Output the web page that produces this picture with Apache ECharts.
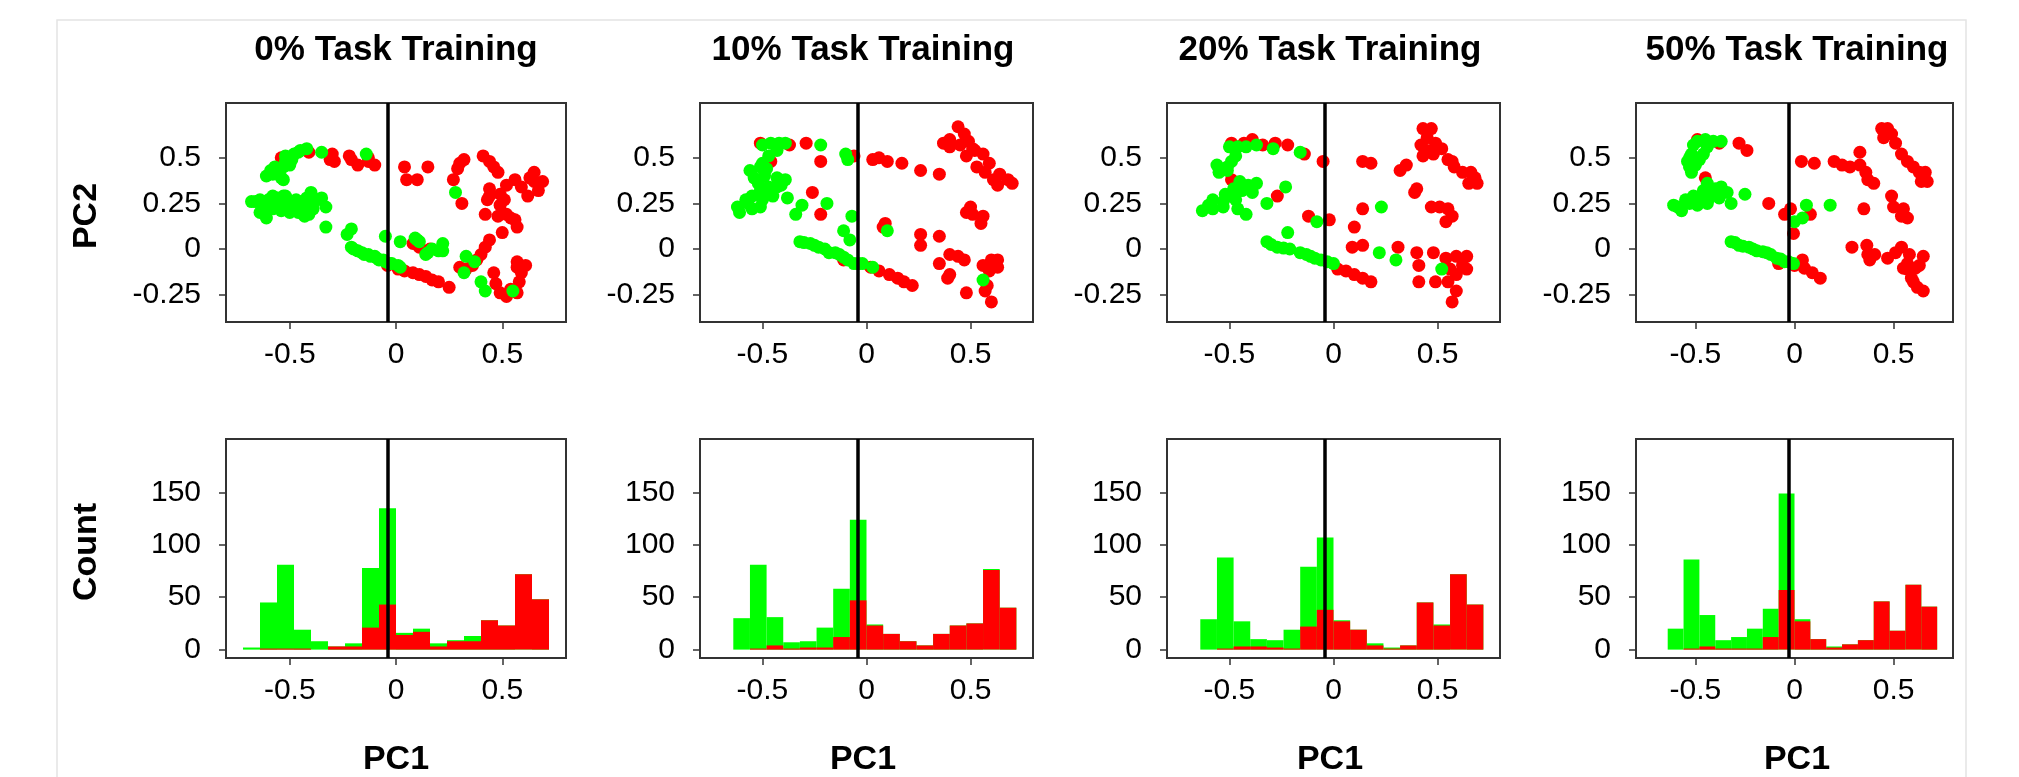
<!DOCTYPE html>
<html>
<head>
<meta charset="utf-8">
<title>Task Training PCA</title>
<script src="https://cdn.jsdelivr.net/npm/echarts@6.0.0/dist/echarts.min.js"></script>
<style>
  html, body { margin: 0; padding: 0; background: #fff; }
  #chart { width: 2019px; height: 777px; }
</style>
</head>
<body>
<div id="chart"></div>
<script>
const panelTitles = ['0% Task Training', '10% Task Training', '20% Task Training', '50% Task Training']
const xTicks = [-0.5, 0, 0.5]
const pcYTicks = [-0.25, 0, 0.25, 0.5]
const countTicks = [0, 50, 100, 150]
const thresholds = [-0.035, -0.037, -0.035, -0.03]

// PCA points, [PC1, PC2]
const red0 = [[-0.54,0.50],[-0.41,0.53],[-0.30,0.52],[-0.31,0.49],[-0.29,0.48],[-0.22,0.51],[-0.21,0.49],[-0.18,0.46],[-0.13,0.50],[-0.13,0.48],[-0.10,0.46],
  [0.04,0.45],[0.05,0.38],[0.10,0.38],[0.15,0.45],[0.27,0.38],[0.31,0.25],[0.29,0.44],[0.30,0.47],[0.32,0.49],[0.41,0.51],[0.44,0.48],[0.46,0.45],[0.48,0.42],[0.65,0.42],[0.63,0.39],[0.69,0.37],[0.65,0.37],[0.67,0.32],[0.62,0.29],[0.59,0.34],[0.56,0.38],[0.52,0.35],[0.51,0.27],[0.44,0.33],[0.43,0.27],[0.42,0.19],[0.49,0.24],[0.52,0.19],[0.54,0.17],[0.57,0.12],[0.50,0.09],[0.56,0.16],[0.48,0.18],[0.44,0.29],[0.49,0.30],
  [0.44,0.05],[0.42,0.01],[0.40,-0.03],[0.38,-0.06],[0.36,-0.09],[0.30,-0.10],[0.33,-0.11],[0.46,-0.13],[0.47,-0.19],[0.49,-0.24],[0.52,-0.26],[0.57,-0.07],[0.61,-0.09],[0.57,-0.10],[0.59,-0.13],[0.58,-0.18],[0.57,-0.24],[0.54,-0.22],
  [-0.04,-0.09],[0.01,-0.11],[0.04,-0.12],[0.08,-0.13],[0.11,-0.14],[0.14,-0.15],[0.17,-0.17],[0.20,-0.18],[0.25,-0.21],[0.08,0.03],[0.11,0.01],[0.16,0.00]]
const green0 = [[-0.61,0.40],[-0.59,0.43],[-0.57,0.45],[-0.57,0.42],[-0.54,0.39],[-0.53,0.45],[-0.52,0.48],[-0.52,0.51],[-0.49,0.49],[-0.48,0.52],[-0.46,0.53],[-0.45,0.54],[-0.42,0.55],[-0.50,0.46],[-0.55,0.42],[-0.58,0.41],[-0.53,0.38],[-0.35,0.53],[-0.14,0.52],
  [-0.66,0.26],[-0.64,0.27],[-0.62,0.23],[-0.61,0.17],[-0.60,0.27],[-0.57,0.25],[-0.56,0.28],[-0.54,0.21],[-0.53,0.29],[-0.51,0.27],[-0.50,0.20],[-0.49,0.25],[-0.47,0.27],[-0.45,0.23],[-0.43,0.18],[-0.42,0.28],[-0.41,0.24],[-0.40,0.31],[-0.37,0.27],[-0.35,0.28],[-0.33,0.23],[-0.64,0.20],[-0.55,0.23],[-0.46,0.20],[-0.41,0.19],[-0.52,0.29],[-0.58,0.29],[-0.61,0.23],[-0.68,0.26],[-0.62,0.26],[-0.55,0.26],[-0.48,0.23],[-0.44,0.26],[-0.39,0.22],[-0.58,0.22],[-0.50,0.24],
  [-0.33,0.12],[-0.21,0.11],[-0.23,0.08],[-0.21,0.01],[-0.20,0.00],[-0.18,-0.01],[-0.16,-0.02],[-0.15,-0.03],[-0.13,-0.03],[-0.12,-0.04],[-0.10,-0.04],[-0.09,-0.05],[-0.08,-0.06],[-0.06,-0.06],[-0.05,-0.07],[-0.03,-0.08],[-0.02,-0.08],[0.01,-0.09],[0.02,-0.10],[-0.05,0.07],[0.02,0.04],[0.09,0.06],[0.10,0.05],[0.11,0.04],[0.14,-0.03],[0.15,-0.02],[0.17,0.00],[0.20,-0.01],[0.22,0.03],[0.22,-0.01],[0.28,0.31],[0.33,-0.04],[0.37,-0.07],[0.32,-0.13],[0.40,-0.18],[0.42,-0.23],[0.55,-0.23]]

const red10 = [[-0.51,0.58],[-0.46,0.48],[-0.37,0.57],[-0.29,0.58],[-0.22,0.48],[-0.06,0.51],[-0.26,0.31],[-0.22,0.19],
  [0.03,0.49],[0.06,0.50],[0.10,0.48],[0.17,0.47],[0.26,0.43],[0.35,0.41],
  [0.37,0.58],[0.40,0.60],[0.40,0.56],[0.44,0.67],[0.47,0.63],[0.49,0.59],[0.45,0.57],[0.51,0.55],[0.48,0.51],[0.52,0.54],[0.56,0.52],[0.59,0.47],[0.53,0.45],[0.57,0.42],[0.61,0.38],[0.64,0.41],[0.68,0.38],[0.63,0.35],[0.70,0.36],
  [0.50,0.23],[0.51,0.19],[0.56,0.18],[0.55,0.14],[0.48,0.20],
  [0.08,0.12],[0.09,0.14],[0.26,0.08],[0.26,0.02],[0.35,0.07],
  [0.35,-0.08],[0.40,-0.03],[0.44,-0.04],[0.47,-0.06],[0.40,-0.14],[0.39,-0.16],[0.48,-0.24],[0.57,-0.23],[0.60,-0.29],[0.56,-0.09],[0.60,-0.06],[0.63,-0.06],[0.63,-0.10],[0.59,-0.12],[0.58,-0.20],
  [-0.11,-0.06],[0.02,-0.10],[0.06,-0.12],[0.11,-0.14],[0.15,-0.16],[0.18,-0.18],[0.22,-0.20]]
const green10 = [[-0.50,0.57],[-0.46,0.58],[-0.42,0.58],[-0.39,0.58],[-0.43,0.54],[-0.47,0.51],[-0.48,0.44],[-0.50,0.47],[-0.51,0.45],[-0.56,0.43],[-0.54,0.39],[-0.52,0.36],[-0.49,0.40],[-0.43,0.39],[-0.39,0.38],[-0.41,0.35],[-0.43,0.34],[-0.47,0.34],[-0.51,0.32],[-0.46,0.30],[-0.55,0.29],[-0.58,0.27],[-0.57,0.25],[-0.50,0.27],[-0.62,0.23],[-0.61,0.20],[-0.55,0.22],[-0.51,0.23],[-0.45,0.29],[-0.38,0.28],[-0.34,0.19],[-0.31,0.24],[-0.22,0.57],[-0.19,0.25],[-0.10,0.52],[-0.09,0.49],[-0.07,0.18],[-0.11,0.10],[-0.08,0.05],
  [-0.32,0.04],[-0.30,0.035],[-0.27,0.03],[-0.25,0.02],[-0.23,0.01],[-0.20,0.00],[-0.18,-0.02],[-0.15,-0.02],[-0.13,-0.03],[-0.11,-0.045],[-0.09,-0.06],[-0.06,-0.08],[-0.04,-0.08],[-0.02,-0.08],[0.03,-0.10],[0.10,0.10],[0.56,-0.17]]

const red20 = [[-0.49,0.58],[-0.43,0.58],[-0.39,0.60],[-0.34,0.57],[-0.28,0.58],[-0.22,0.57],[-0.14,0.52],[-0.05,0.48],[-0.49,0.38],[-0.27,0.29],[-0.12,0.18],[-0.02,0.16],
  [0.02,-0.11],[0.06,-0.12],[0.10,-0.14],[0.14,-0.16],[0.18,-0.18],
  [0.14,0.48],[0.18,0.47],[0.32,0.43],[0.35,0.46],[0.40,0.33],[0.39,0.31],[0.14,0.22],[0.10,0.12],[0.09,0.01],[0.14,0.02],[0.31,0.01],
  [0.43,0.66],[0.47,0.66],[0.45,0.61],[0.42,0.57],[0.49,0.58],[0.45,0.54],[0.43,0.51],[0.48,0.52],[0.52,0.55],[0.55,0.49],[0.57,0.48],[0.58,0.45],[0.62,0.42],[0.66,0.42],[0.68,0.39],[0.69,0.36],[0.65,0.36],
  [0.47,0.23],[0.51,0.23],[0.55,0.22],[0.57,0.18],[0.54,0.15],
  [0.40,-0.02],[0.41,-0.09],[0.41,-0.18],[0.48,-0.02],[0.49,-0.18],[0.55,-0.18],[0.59,-0.23],[0.57,-0.29],[0.59,-0.04],[0.64,-0.04],[0.62,-0.09],[0.64,-0.11],[0.56,-0.11],[0.59,-0.14],[0.54,-0.05]]
const green20 = [[-0.50,0.56],[-0.46,0.56],[-0.42,0.56],[-0.37,0.57],[-0.29,0.55],[-0.16,0.53],[-0.47,0.51],[-0.49,0.48],[-0.51,0.45],[-0.56,0.46],[-0.55,0.42],[-0.51,0.43],
  [-0.45,0.37],[-0.41,0.35],[-0.37,0.36],[-0.39,0.31],[-0.44,0.32],[-0.48,0.33],[-0.52,0.30],[-0.50,0.29],[-0.47,0.27],[-0.53,0.26],[-0.58,0.27],[-0.60,0.24],[-0.63,0.21],[-0.58,0.22],[-0.53,0.23],[-0.46,0.22],[-0.42,0.19],[-0.32,0.25],[-0.23,0.34],[-0.22,0.09],[-0.08,0.15],[0.23,0.23],[0.22,-0.02],[0.30,-0.06],[0.52,-0.11],
  [-0.32,0.04],[-0.30,0.025],[-0.27,0.01],[-0.24,0.005],[-0.21,0.00],[-0.16,-0.02],[-0.13,-0.03],[-0.11,-0.04],[-0.09,-0.05],[-0.06,-0.06],[-0.03,-0.07],[0.00,-0.08]]

const red50 = [[-0.49,0.60],[-0.38,0.58],[-0.28,0.58],[-0.24,0.54],[-0.45,0.39],[-0.13,0.25],[-0.05,0.19],[-0.02,0.22],[0.08,0.19],[-0.005,0.085],[0.035,0.48],[0.10,0.47],
  [-0.08,-0.08],[0.00,-0.09],[0.04,-0.06],[0.05,-0.105],[0.09,-0.13],[0.13,-0.16],
  [0.20,0.48],[0.24,0.46],[0.28,0.45],[0.33,0.46],[0.33,0.53],[0.36,0.42],[0.37,0.38],[0.40,0.36],[0.44,0.66],[0.47,0.66],[0.45,0.61],[0.49,0.63],[0.51,0.58],[0.54,0.52],[0.57,0.48],[0.60,0.45],[0.63,0.42],[0.66,0.42],[0.67,0.37],[0.64,0.37],
  [0.35,0.22],[0.49,0.29],[0.50,0.23],[0.55,0.22],[0.57,0.17],[0.54,0.18],
  [0.29,0.01],[0.365,0.02],[0.37,-0.03],[0.405,-0.03],[0.38,-0.06],[0.47,-0.05],[0.51,-0.02],[0.54,0.01],[0.58,-0.03],[0.65,-0.04],[0.57,-0.08],[0.63,-0.09],[0.57,-0.11],[0.61,-0.105],[0.55,-0.105],[0.59,-0.16],[0.60,-0.18],[0.62,-0.21],[0.65,-0.23]]
const green50 = [[-0.51,0.57],[-0.49,0.59],[-0.45,0.60],[-0.41,0.59],[-0.37,0.59],[-0.44,0.56],[-0.46,0.52],[-0.52,0.52],[-0.53,0.50],[-0.54,0.48],[-0.48,0.49],[-0.50,0.46],[-0.53,0.45],[-0.52,0.42],
  [-0.61,0.24],[-0.59,0.23],[-0.57,0.21],[-0.55,0.27],[-0.53,0.25],[-0.51,0.29],[-0.49,0.28],[-0.49,0.24],[-0.47,0.28],[-0.46,0.32],[-0.44,0.36],[-0.44,0.25],[-0.43,0.28],[-0.41,0.30],[-0.40,0.33],[-0.38,0.28],[-0.37,0.34],[-0.34,0.31],[-0.32,0.25],[-0.25,0.30],
  [-0.32,0.04],[-0.30,0.035],[-0.28,0.02],[-0.26,0.015],[-0.23,0.01],[-0.21,0.00],[-0.19,-0.01],[-0.16,-0.015],[-0.14,-0.02],[-0.12,-0.03],[-0.09,-0.05],[-0.07,-0.055],[-0.05,-0.07],[-0.03,-0.07],[-0.005,-0.08],
  [0.06,0.24],[0.18,0.24],[0.04,0.17],[0.00,0.15]]

// histograms: bin left edges and counts
const binWidth = 0.08
const binStarts0 = [-0.72,-0.64,-0.56,-0.48,-0.40,-0.32,-0.24,-0.16,-0.08,0,0.08,0.16,0.24,0.32,0.40,0.48,0.56,0.64]
const binStarts = [-0.64,-0.56,-0.48,-0.40,-0.32,-0.24,-0.16,-0.08,0,0.08,0.16,0.24,0.32,0.40,0.48,0.56,0.64]
const greenHist0 = [2,45,81,19,8,3,6,78,135,16,20,6,9,13,28,23,72,48]
const redHist0 = [0,1,1,1,0,3,3,21,43,14,17,3,8,8,28,23,72,48]
const greenHist10 = [30,81,31,7,8,21,58,124,24,15,8,4,15,23,25,77,40]
const redHist10 = [0,1,4,1,2,2,12,47,23,15,8,4,15,23,25,76,40]
const greenHist20 = [29,88,27,10,9,19,79,107,28,19,6,2,4,45,24,72,43]
const redHist20 = [0,1,3,3,2,1,22,38,27,19,4,1,4,45,23,72,43]
const greenHist50 = [20,86,33,9,12,20,39,149,29,10,3,5,9,46,18,62,41]
const redHist50 = [0,1,3,1,1,1,12,57,27,10,2,5,9,46,18,62,41]

const reds = [red0, red10, red20, red50]
const greens = [green0, green10, green20, green50]
const histBins = [binStarts0, binStarts, binStarts, binStarts]
const greenHists = [greenHist0, greenHist10, greenHist20, greenHist50]
const redHists = [redHist0, redHist10, redHist20, redHist50]

// layout
const FONT = '"Liberation Sans", Arial, Helvetica, sans-serif'
const gridLefts = [226, 700, 1167, 1636]
const gridWidths = [340, 333, 333, 317]
const labelCenters = [396, 863, 1330, 1797]
const plotHeight = 219
const scatterTop = 103
const histTop = 439
const RED = '#ff0000'
const GREEN = '#00ff00'
const DOT = 13

const axisBase = (gridIndex, ticks, margin) => ({
  gridIndex,
  type: 'value',
  axisLine: { show: false, onZero: false },
  splitLine: { show: false },
  axisTick: { show: true, length: 7, customValues: ticks, lineStyle: { color: '#333', width: 1.5 } },
  axisLabel: { customValues: ticks, margin, fontSize: 30, color: '#000', fontFamily: FONT }
})

const grids = []
const xAxes = []
const yAxes = []
const series = []

const histItem = (color) => (params, api) => {
  const top = api.coord([api.value(0), api.value(2)])
  const base = api.coord([api.value(1), 0])
  return {
    type: 'rect',
    shape: { x: top[0], y: top[1], width: base[0] - top[0], height: base[1] - top[1] },
    style: { fill: color }
  }
}

const cutLine = (xIdx, value) => ({
  type: 'scatter',
  xAxisIndex: xIdx,
  yAxisIndex: xIdx,
  data: [],
  silent: true,
  markLine: {
    silent: true,
    symbol: 'none',
    label: { show: false },
    lineStyle: { color: '#000', width: 3.5, type: 'solid' },
    data: [{ xAxis: value }]
  }
})

for (let i = 0; i < 4; i++) {
  grids.push({ left: gridLefts[i], top: scatterTop, width: gridWidths[i], height: plotHeight,
    show: true, borderColor: '#333', borderWidth: 2, containLabel: false })
  xAxes.push({ ...axisBase(i, xTicks, 18), min: -0.8, max: 0.8 })
  yAxes.push({ ...axisBase(i, pcYTicks, 25), min: -0.4, max: 0.8 })
  series.push({ type: 'scatter', xAxisIndex: i, yAxisIndex: i, data: reds[i], symbolSize: DOT,
    itemStyle: { color: RED, opacity: 1 }, silent: true })
  series.push({ type: 'scatter', xAxisIndex: i, yAxisIndex: i, data: greens[i], symbolSize: DOT,
    itemStyle: { color: GREEN, opacity: 1 }, silent: true })
  series.push(cutLine(i, thresholds[i]))
}

for (let i = 0; i < 4; i++) {
  const k = i + 4
  grids.push({ left: gridLefts[i], top: histTop, width: gridWidths[i], height: plotHeight,
    show: true, borderColor: '#333', borderWidth: 2, containLabel: false })
  xAxes.push({ ...axisBase(k, xTicks, 18), min: -0.8, max: 0.8 })
  yAxes.push({ ...axisBase(k, countTicks, 25), min: -8, max: 201 })
  const bins = histBins[i]
  series.push({ type: 'custom', xAxisIndex: k, yAxisIndex: k, silent: true,
    renderItem: histItem(GREEN), encode: { x: [0, 1], y: 2 },
    data: bins.map((b, j) => [b, +(b + binWidth).toFixed(2), greenHists[i][j]]) })
  series.push({ type: 'custom', xAxisIndex: k, yAxisIndex: k, silent: true,
    renderItem: histItem(RED), encode: { x: [0, 1], y: 2 },
    data: bins.map((b, j) => [b, +(b + binWidth).toFixed(2), redHists[i][j]]) })
  series.push(cutLine(k, thresholds[i]))
}

const text = (str, x, y, size, rotation) => ({
  type: 'text',
  x, y,
  rotation: rotation || 0,
  style: {
    text: str,
    font: 'bold ' + size + 'px ' + FONT,
    fill: '#000',
    align: 'center', verticalAlign: 'middle',
    textAlign: 'center', textVerticalAlign: 'middle'
  }
})

const graphics = [
  { type: 'rect', shape: { x: 57, y: 20, width: 1909, height: 800 },
    style: { fill: 'none', stroke: '#e4e4e4', lineWidth: 1.5 }, silent: true }
]
for (let i = 0; i < 4; i++) {
  graphics.push(text(panelTitles[i], labelCenters[i], 50, 35))
  graphics.push(text('PC1', labelCenters[i], 760, 34))
}
graphics.push(text('PC2', 87, 216, 34, Math.PI / 2))
graphics.push(text('Count', 87, 552, 34, Math.PI / 2))

const chart = echarts.init(document.getElementById('chart'))
chart.setOption({
  animation: false,
  backgroundColor: '#fff',
  grid: grids,
  xAxis: xAxes,
  yAxis: yAxes,
  series,
  graphic: graphics
})
</script>
</body>
</html>
